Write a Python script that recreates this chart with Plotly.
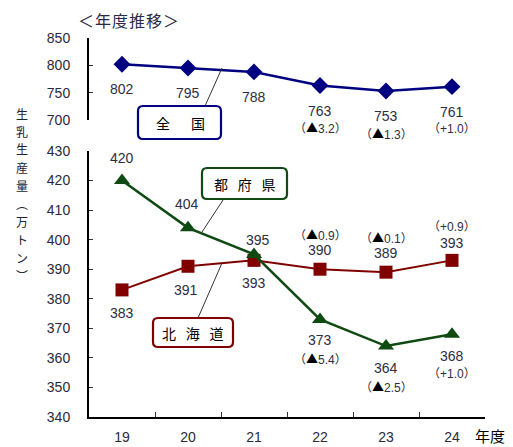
import plotly.graph_objects as go

# Fiscal years (Heisei)
years = ["19", "20", "21", "22", "23", "24"]

# Raw milk production (10,000 t)
national = [802, 795, 788, 763, 753, 761]
national_change = [None, None, None, -3.2, -1.3, 1.0]
hokkaido = [383, 391, 393, 390, 389, 393]
hokkaido_change = [None, None, None, -0.9, -0.1, 0.9]
prefectures = [420, 404, 395, 373, 364, 368]
prefectures_change = [None, None, None, -5.4, -2.5, 1.0]

top_ticks = [700, 750, 800, 850]
bottom_ticks = [340, 350, 360, 370, 380, 390, 400, 410, 420, 430]

W, H = 513, 447
NAVY = "#000080"
RED = "#800000"
GREEN = "#0f4a12"
LABEL = "#2e2e40"
NUM_FONT = "Liberation Sans, Arial, sans-serif"
JP_FONT = "Noto Sans CJK JP"
MIX_FONT = "Liberation Sans, Noto Sans CJK JP"


def px(x):
    return x / W


def py(y):
    return 1 - y / H


def change_text(v):
    tri = '<span style="font-family:Noto Sans CJK JP;color:black">▲</span>'
    return ("（%s%.1f）" % (tri, abs(v))) if v < 0 else ("（+%.1f）" % v)


fig = go.Figure()

fig.add_trace(go.Scatter(
    x=years, y=national, xaxis="x2", yaxis="y2", mode="lines+markers",
    line=dict(color=NAVY, width=2.5),
    marker=dict(symbol="diamond", size=13, color=NAVY)))
fig.add_trace(go.Scatter(
    x=years, y=hokkaido, mode="lines+markers",
    line=dict(color=RED, width=2),
    marker=dict(symbol="square", size=13, color=RED)))
fig.add_trace(go.Scatter(
    x=years, y=prefectures, mode="lines+markers",
    line=dict(color=GREEN, width=2.5),
    marker=dict(symbol="triangle-up", size=14, color=GREEN)))

annotations = []
CENTER = dict(xanchor="center", yanchor="middle", showarrow=False)


def value_label(i, val, shift, xref="x", yref="y", xshift=0, size=14):
    # category axes take the position index
    annotations.append(dict(
        x=i, y=val, xref=xref, yref=yref, text=str(val),
        yshift=shift, xshift=xshift,
        font=dict(family=NUM_FONT, size=size, color=LABEL), **CENTER))


def delta_label(i, val, chg, shift, xref="x", yref="y"):
    annotations.append(dict(
        x=i, y=val, xref=xref, yref=yref, text=change_text(chg),
        yshift=shift,
        font=dict(family=MIX_FONT, size=12, color=LABEL), **CENTER))


# national (below markers)
for i, v in enumerate(national):
    value_label(i, v, -25, "x2", "y2")
    if national_change[i] is not None:
        delta_label(i, v, national_change[i], -42, "x2", "y2")

# prefectures
pref_shift = [23, 24, 14, -21, -22, -22]
pref_xshift = [0, -1, 4, 0, 0, 0]
for i, v in enumerate(prefectures):
    value_label(i, v, pref_shift[i], xshift=pref_xshift[i])
    if prefectures_change[i] is not None:
        delta_label(i, v, prefectures_change[i], pref_shift[i] - 18)

# hokkaido
hok_shift = [-23, -24, -23, 19, 19, 17]
hok_xshift = [0, -2, 0, 0, 0, 0]
for i, v in enumerate(hokkaido):
    value_label(i, v, hok_shift[i], xshift=hok_xshift[i])
    if hokkaido_change[i] is not None:
        delta_label(i, v, hokkaido_change[i], hok_shift[i] + 16)


def paper_text(x, y, text, size, color="black", family=JP_FONT):
    annotations.append(dict(
        x=px(x), y=py(y), xref="paper", yref="paper", text=text,
        font=dict(family=family, size=size, color=color), **CENTER))


# heading
paper_text(128, 20, "＜\u200a年\u200a度\u200a推\u200a移\u200a＞", 16, "#2a2a44")

# vertical axis title, one character per row
title_chars = ["生", "乳", "生", "産", "量", "︵", "万", "ト", "ン", "︶"]
for k, ch in enumerate(title_chars):
    paper_text(22, 113 + 18 * k, ch, 12, "#222233")

# x axis caption
paper_text(490, 435, "年度", 15)

shapes = []


def leader(x0, y0, x1, y1):
    shapes.append(dict(type="line", xref="paper", yref="paper",
                       x0=px(x0), y0=py(y0), x1=px(x1), y1=py(y1),
                       line=dict(color="#333333", width=1)))


def rounded_box(x0, y0, x1, y1, color, r=5):
    path = (f"M {px(x0 + r)} {py(y0)} L {px(x1 - r)} {py(y0)} "
            f"Q {px(x1)} {py(y0)} {px(x1)} {py(y0 + r)} "
            f"L {px(x1)} {py(y1 - r)} Q {px(x1)} {py(y1)} {px(x1 - r)} {py(y1)} "
            f"L {px(x0 + r)} {py(y1)} Q {px(x0)} {py(y1)} {px(x0)} {py(y1 - r)} "
            f"L {px(x0)} {py(y0 + r)} Q {px(x0)} {py(y0)} {px(x0 + r)} {py(y0)} Z")
    shapes.append(dict(type="path", xref="paper", yref="paper", path=path,
                       fillcolor="white", line=dict(color=color, width=2.2)))


leader(205, 106, 222, 68)
leader(223, 200, 202, 232)
leader(198, 318, 222, 263)
rounded_box(138, 106, 221, 139, NAVY)
rounded_box(202, 168, 287, 199, GREEN)
rounded_box(153, 318, 233, 347, RED)
paper_text(180, 123, "全\u2003\u2002国", 14)
paper_text(245, 184, "都\u2002\u2009府\u2002\u2009県", 14)
paper_text(193, 333, "北\u2002\u2009海\u2002\u2009道", 14)

xdom = [px(89), px(485)]
tickfont = dict(family=NUM_FONT, size=14, color="#2a2a3a")

fig.update_layout(
    width=W, height=H,
    margin=dict(l=0, r=0, t=0, b=0, autoexpand=False),
    paper_bgcolor="white", plot_bgcolor="white",
    showlegend=False,
    xaxis=dict(domain=xdom, anchor="y", type="category", range=[-0.5, 5.5],
               tickson="boundaries", ticks="inside", ticklen=5,
               tickcolor="#333", showline=True, linecolor="black",
               linewidth=2, showgrid=False, zeroline=False, automargin=False,
               tickfont=tickfont, ticklabelstandoff=6),
    xaxis2=dict(domain=xdom, anchor="y2", type="category",
                range=[-0.5, 5.5], visible=False, automargin=False),
    yaxis=dict(domain=[py(417), py(151)], anchor="x", range=[340, 430],
               tickvals=bottom_ticks, ticks="inside", ticklen=4,
               tickcolor="#333", showline=True, linecolor="black",
               linewidth=2, showgrid=False, zeroline=False, automargin=False,
               tickfont=tickfont, ticklabelstandoff=14),
    yaxis2=dict(domain=[py(120), py(38)], anchor="x2", range=[700, 850],
                tickvals=top_ticks, ticks="inside", ticklen=4,
                tickcolor="#333", showline=True, linecolor="black",
                linewidth=2, showgrid=False, zeroline=False, automargin=False,
                tickfont=tickfont, ticklabelstandoff=14),
    annotations=annotations,
    shapes=shapes,
)

fig.write_html("out.html")
